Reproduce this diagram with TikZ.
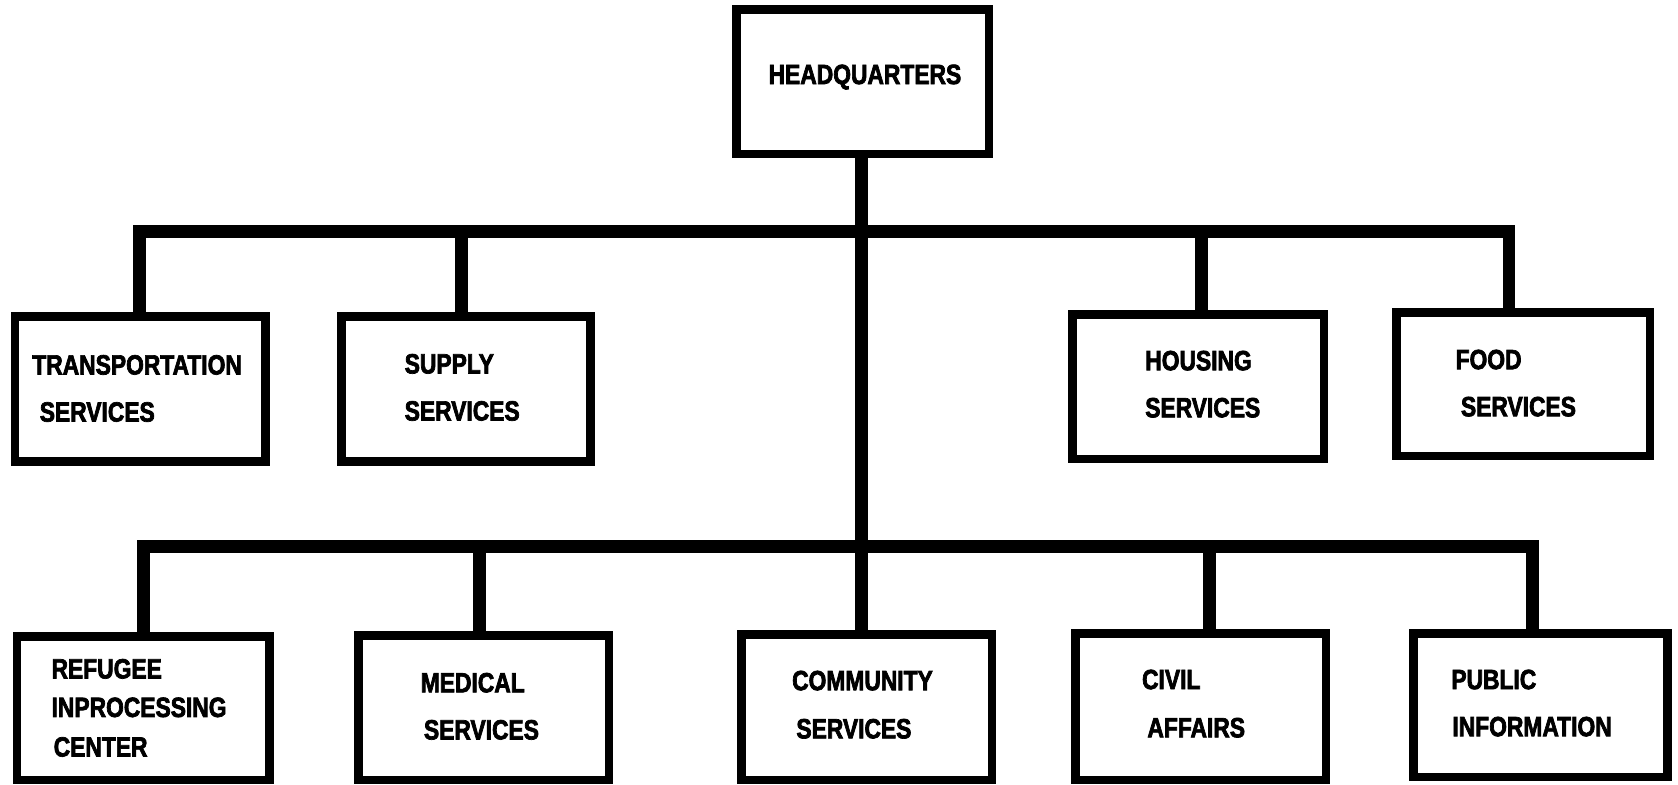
\documentclass[tikz,border=0pt]{standalone}
\usepackage{fontspec}
\setmainfont{Liberation Sans}
\newfontfamily\lblfont[FakeStretch=0.82, FakeBold=2.5]{Liberation Sans}
\begin{document}
\begin{tikzpicture}[x=1pt,y=-1pt,
  box/.style={draw, line width=8pt, inner sep=0pt},
  conn/.style={line width=12pt, line join=miter},
  lbl/.style={anchor=west, inner sep=0pt, font=\lblfont\bfseries\fontsize{26}{26}\selectfont}]
\fill[white] (0,0) rectangle (1568,733);
\useasboundingbox (0,0) rectangle (1568,733);
% boxes
\node[box, minimum width=236pt, minimum height=135pt] (hq)  at (806,76.5) {};
\node[box, minimum width=234pt, minimum height=135pt] (tra) at (131,363.5) {};
\node[box, minimum width=233pt, minimum height=135pt] (sup) at (435.5,363.5) {};
\node[box, minimum width=235pt, minimum height=135pt] (hou) at (1119.5,361.5) {};
\node[box, minimum width=237pt, minimum height=134pt] (foo) at (1423.5,359) {};
\node[box, minimum width=236pt, minimum height=134pt] (ref) at (134,662) {};
\node[box, minimum width=234pt, minimum height=135pt] (med) at (452,661.5) {};
\node[box, minimum width=234pt, minimum height=136pt] (com) at (810,661) {};
\node[box, minimum width=234pt, minimum height=137pt] (civ) at (1122,660.5) {};
\node[box, minimum width=237pt, minimum height=134pt] (pub) at (1439.5,659) {};
% junctions
\coordinate (t) at (805,216);
\coordinate (b) at (805,511);
% connectors
\draw[conn] (t |- hq.south) -- (t |- com.north);
\draw[conn] ([xshift=-1pt]tra.north) |- (t) -| ([xshift=-13.5pt]foo.north);
\draw[conn] ([xshift=-4.5pt]sup.north) -- ([xshift=-4.5pt]sup.north |- t);
\draw[conn] ([xshift=3.5pt]hou.north) -- ([xshift=3.5pt]hou.north |- t);
\draw[conn] (ref.north) |- (b) -| ([xshift=-7.5pt]pub.north);
\draw[conn] ([xshift=-4pt]med.north) -- ([xshift=-4pt]med.north |- b);
\draw[conn] ([xshift=8pt]civ.north) -- ([xshift=8pt]civ.north |- b);
% labels
\node[lbl] (l-hq) at (718,72) {HEADQUARTERS};
\node[lbl] (l-tra1) at (30,341) {TRANSPORTATION};
\node[lbl] (l-tra2) at (37,385) {SERVICES};
\node[lbl] (l-sup1) at (378,340) {SUPPLY};
\node[lbl] (l-sup2) at (378,384) {SERVICES};
\node[lbl] (l-hou1) at (1070,337) {HOUSING};
\node[lbl] (l-hou2) at (1070,381) {SERVICES};
\node[lbl] (l-foo1) at (1360,336) {FOOD};
\node[lbl] (l-foo2) at (1365,380) {SERVICES};
\node[lbl] (l-ref1) at (48,625) {REFUGEE};
\node[lbl] (l-ref2) at (48,661) {INPROCESSING};
\node[lbl] (l-ref3) at (50,698) {CENTER};
\node[lbl] (l-med1) at (393,638) {MEDICAL};
\node[lbl] (l-med2) at (396,682) {SERVICES};
\node[lbl] (l-com1) at (740,636) {COMMUNITY};
\node[lbl] (l-com2) at (744,681) {SERVICES};
\node[lbl] (l-civ1) at (1067,635) {CIVIL};
\node[lbl] (l-civ2) at (1072,680) {AFFAIRS};
\node[lbl] (l-pub1) at (1356,635) {PUBLIC};
\node[lbl] (l-pub2) at (1357,679) {INFORMATION};
\end{tikzpicture}
\end{document}
